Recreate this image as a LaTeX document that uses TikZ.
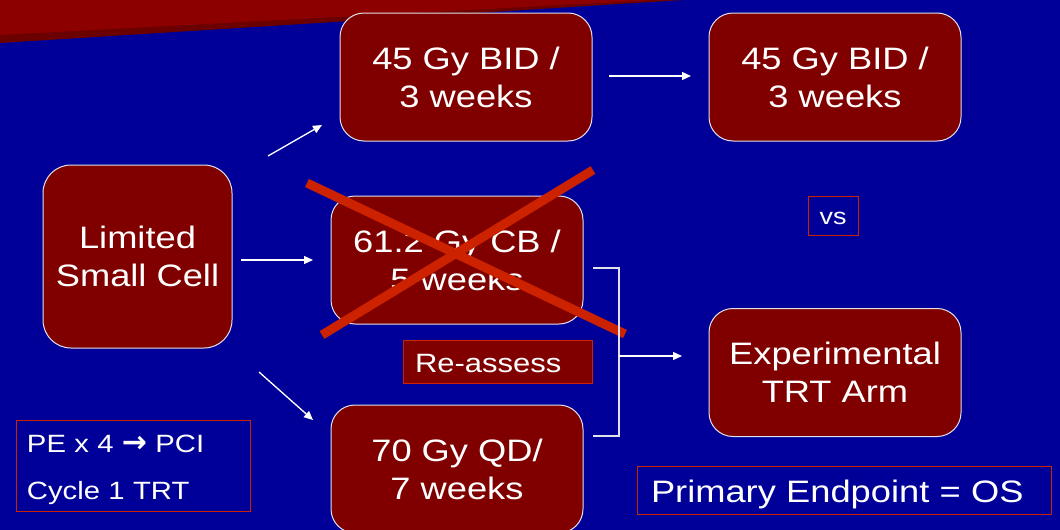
\documentclass[tikz,border=0pt]{standalone}
\usepackage{fontspec}
\setmainfont{Liberation Sans}[FakeStretch=1.17]
\newfontfamily\arrowfont{DejaVu Sans Bold}
\usetikzlibrary{arrows.meta}
\definecolor{bg}{RGB}{0,0,153}
\definecolor{boxred}{RGB}{128,0,0}
\definecolor{bannerA}{RGB}{140,0,0}
\definecolor{bannerB}{RGB}{106,0,0}
\definecolor{xred}{RGB}{204,34,0}
\definecolor{edge}{RGB}{225,225,235}
\begin{document}
\begin{tikzpicture}[x=1pt,y=-1pt,
  box/.style={draw=edge, line width=1pt, fill=boxred, rounded corners=24pt, minimum width=252pt, minimum height=128pt, inner sep=0pt, align=center, text=white, font=\fontsize{31}{38}\selectfont},
  lbl/.style={draw=xred, line width=1pt, inner sep=0pt, text=white},
  arr/.style={draw=white, line width=1.3pt, -{Triangle[length=9pt,width=8pt]}},
  cross/.style={draw=xred, line width=9pt},
  brk/.style={draw=edge, line width=1.3pt}]
\useasboundingbox (0,0) rectangle (1060,530);
\fill[bg] (0,0) rectangle (1060,530);
\fill[bannerB] (0,0) -- (683,0) -- (0,43) -- cycle;
\fill[bannerA] (0,0) -- (655,0) -- (0,35) -- cycle;

\node[box] (bid1) at (466,77) {45 Gy BID /\\ 3 weeks};
\node[box] (bid2) at (835,77) {45 Gy BID /\\ 3 weeks};
\node[box, minimum width=189pt, minimum height=183pt, rounded corners=28pt] (lsc) at (137.5,256.5) {Limited\\Small Cell};
\node[box] (cb) at (457,260) {61.2 Gy CB /\\ 5 weeks};
\node[box] (qd) at (457,469) {70 Gy QD/\\ 7 weeks};
\node[box] (exp) at (835,372.5) {Experimental\\TRT Arm};

\node[lbl, minimum width=50pt, minimum height=39pt, font=\fontsize{23}{28}\selectfont] (vs) at (833,215.5) {\rule{0pt}{19pt}vs};
\node[lbl, fill=boxred, minimum width=189pt, minimum height=43pt, text width=165pt, align=left, inner xsep=12pt, font=\fontsize{26.5}{30}\selectfont] (re) at (497.5,361.5) {\rule{0pt}{23pt}Re-assess};
\node[lbl, minimum width=234pt, minimum height=91pt, text width=212pt, align=left, inner xsep=11pt, font=\fontsize{25}{47}\selectfont] (pe) at (133,465.5) {\rule{0pt}{26pt}PE x 4 {\arrowfont\fontsize{30}{47}\selectfont →} PCI\\Cycle 1 TRT};
\node[lbl, minimum width=414pt, minimum height=48pt, text width=386pt, align=left, inner xsep=14pt, font=\fontsize{31}{37}\selectfont] (ep) at (844,490) {\rule{0pt}{31pt}Primary Endpoint = OS};

\coordinate (c1) at (307,183); \coordinate (c2) at (625,334);
\coordinate (c3) at (322,335); \coordinate (c4) at (593,170);
\draw[cross] (c1) -- (c2);
\draw[cross] (c3) -- (c4);

\coordinate (bt) at (593,268); \coordinate (bb) at (593,436);
\coordinate (btr) at (619,268); \coordinate (bbr) at (619,436);
\coordinate (bm) at (619,356); \coordinate (bme) at (682,356);
\draw[brk] (bt) -- (btr) -- (bbr) -- (bb);
\draw[arr] (bm) -- (bme);

\coordinate (a1s) at (268,156); \coordinate (a1e) at (322,125);
\coordinate (a2s) at (609,76); \coordinate (a2e) at (691,76);
\coordinate (a3s) at (241,260); \coordinate (a3e) at (313,260);
\coordinate (a4s) at (259,372); \coordinate (a4e) at (313,420);
\draw[arr] (a1s) -- (a1e);
\draw[arr] (a2s) -- (a2e);
\draw[arr] (a3s) -- (a3e);
\draw[arr] (a4s) -- (a4e);
\end{tikzpicture}
\end{document}
